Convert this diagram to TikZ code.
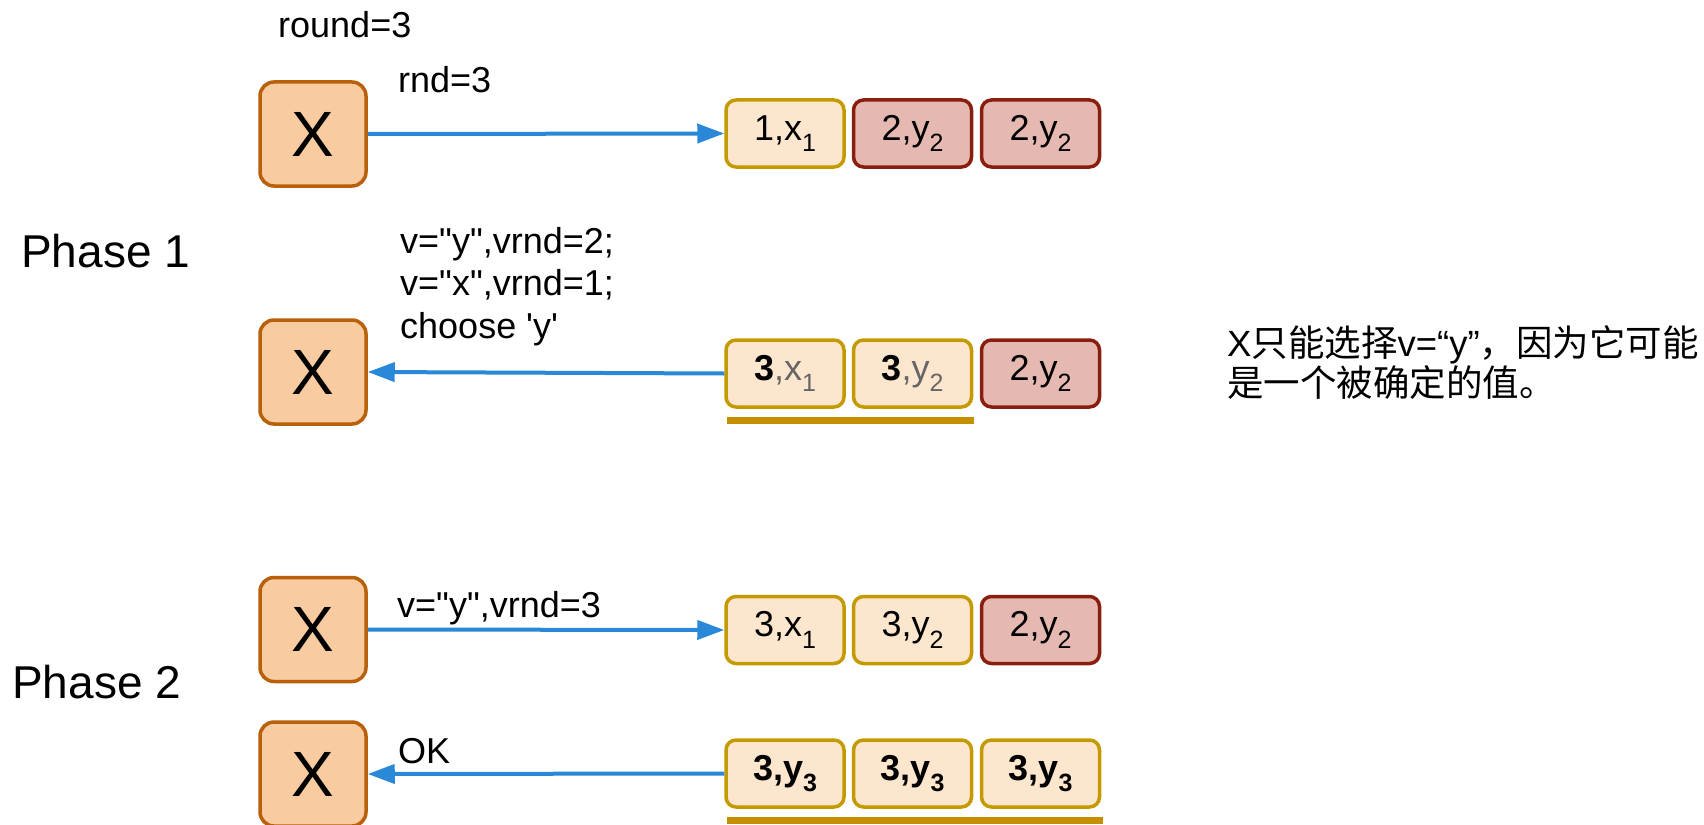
\documentclass[tikz,border=0pt]{standalone}
\usepackage{fontspec}
\setmainfont{Liberation Sans}[Ligatures=TeXOff]
\newfontfamily\cjk{Noto Sans CJK SC}
\usetikzlibrary{arrows.meta}
\definecolor{xfill}{HTML}{F8CBA0}
\definecolor{xline}{HTML}{B8600A}
\definecolor{cfill}{HTML}{FDE6CE}
\definecolor{cline}{HTML}{C49A00}
\definecolor{rfill}{HTML}{E6B8B2}
\definecolor{rline}{HTML}{8A1E0E}
\definecolor{arr}{HTML}{2A88D8}
\definecolor{ulc}{HTML}{C49000}
\definecolor{gtxt}{HTML}{666666}
\newcommand{\fs}[1]{\fontsize{#1}{#1}\selectfont}
\newcommand{\sbs}[1]{\raisebox{-0.32em}{\fs{25}#1}}
\tikzset{
  xbox/.style={draw=xline, fill=xfill, line width=3.5pt, rounded corners=14pt,
    minimum width=106pt, minimum height=104pt, inner sep=0pt, font=\fs{64}},
  cbox/.style={draw=cline, fill=cfill, line width=3.5pt, rounded corners=10pt,
    minimum width=118pt, minimum height=67pt, inner sep=0pt, font=\fs{36}},
  rbox/.style={cbox, draw=rline, fill=rfill},
  lbl/.style={anchor=base west, inner sep=0pt, font=\fs{36}},
  phase/.style={anchor=base west, inner sep=0pt, font=\fs{46}},
  msg/.style={draw=arr, line width=4pt, -{Triangle[length=27pt,width=19pt]}},
  uline/.style={draw=ulc, line width=7pt}
}
\begin{document}
\begin{tikzpicture}[x=1pt,y=-1pt]
\useasboundingbox (0,0) rectangle (1704,824);

% Phase labels
\node[phase] (p1) at (21,267) {Phase 1};
\node[phase] (p2) at (12,698) {Phase 2};

\node[lbl] (round) at (278,38) {round=3};

% Row 1
\node[xbox] (x1) at (313,134) {X};
\node[cbox] (a1) at (785,133.5) {1,x\sbs{1}};
\node[rbox] (a2) at (912.5,133.5) {2,y\sbs{2}};
\node[rbox] (a3) at (1040.5,133.5) {2,y\sbs{2}};
\node[lbl] (m1) at (398,93) {rnd=3};
\draw[msg] (x1.east) -- (a1.west);

% Row 2
\node[xbox] (x2) at (313,372) {X};
\node[cbox] (b1) at (785,373.5) {\textbf{3}\textcolor{gtxt}{,x\sbs{1}}};
\node[cbox] (b2) at (912.5,373.5) {\textbf{3}\textcolor{gtxt}{,y\sbs{2}}};
\node[rbox] (b3) at (1040.5,373.5) {2,y\sbs{2}};
\node[lbl] (m2a) at (400,253) {v="y",vrnd=2;};
\node[lbl] (m2b) at (400,295) {v="x",vrnd=1;};
\node[lbl] (m2c) at (400,338) {choose 'y'};
\draw[msg] (b1.west) -- (x2.east);
\coordinate (u1s) at (727,420.5);
\coordinate (u1e) at (974,420.5);
\draw[uline] (u1s) -- (u1e);

\node[anchor=base west, inner sep=0pt, align=left, font=\fontsize{36.5}{36}\selectfont] (note) at (1227,396)
  {X{\cjk 只能选择}v=“y”{\cjk ，因为它可能}\\{\cjk 是一个被确定的值。}};

% Row 3
\node[xbox] (x3) at (313,629.5) {X};
\node[cbox] (c1) at (785,630) {3,x\sbs{1}};
\node[cbox] (c2) at (912.5,630) {3,y\sbs{2}};
\node[rbox] (c3) at (1040.5,630) {2,y\sbs{2}};
\node[lbl] (m3) at (397,617) {v="y",vrnd=3};
\draw[msg] (x3.east) -- (c1.west);

% Row 4
\node[xbox] (x4) at (313,774) {X};
\node[cbox] (d1) at (785,773.5) {\textbf{3,y\sbs{3}}};
\node[cbox] (d2) at (912.5,773.5) {\textbf{3,y\sbs{3}}};
\node[cbox] (d3) at (1040.5,773.5) {\textbf{3,y\sbs{3}}};
\node[lbl] (m4) at (398,763) {OK};
\draw[msg] (d1.west) -- (x4.east);
\coordinate (u2s) at (727,820.5);
\coordinate (u2e) at (1103,820.5);
\draw[uline] (u2s) -- (u2e);
\end{tikzpicture}
\end{document}
